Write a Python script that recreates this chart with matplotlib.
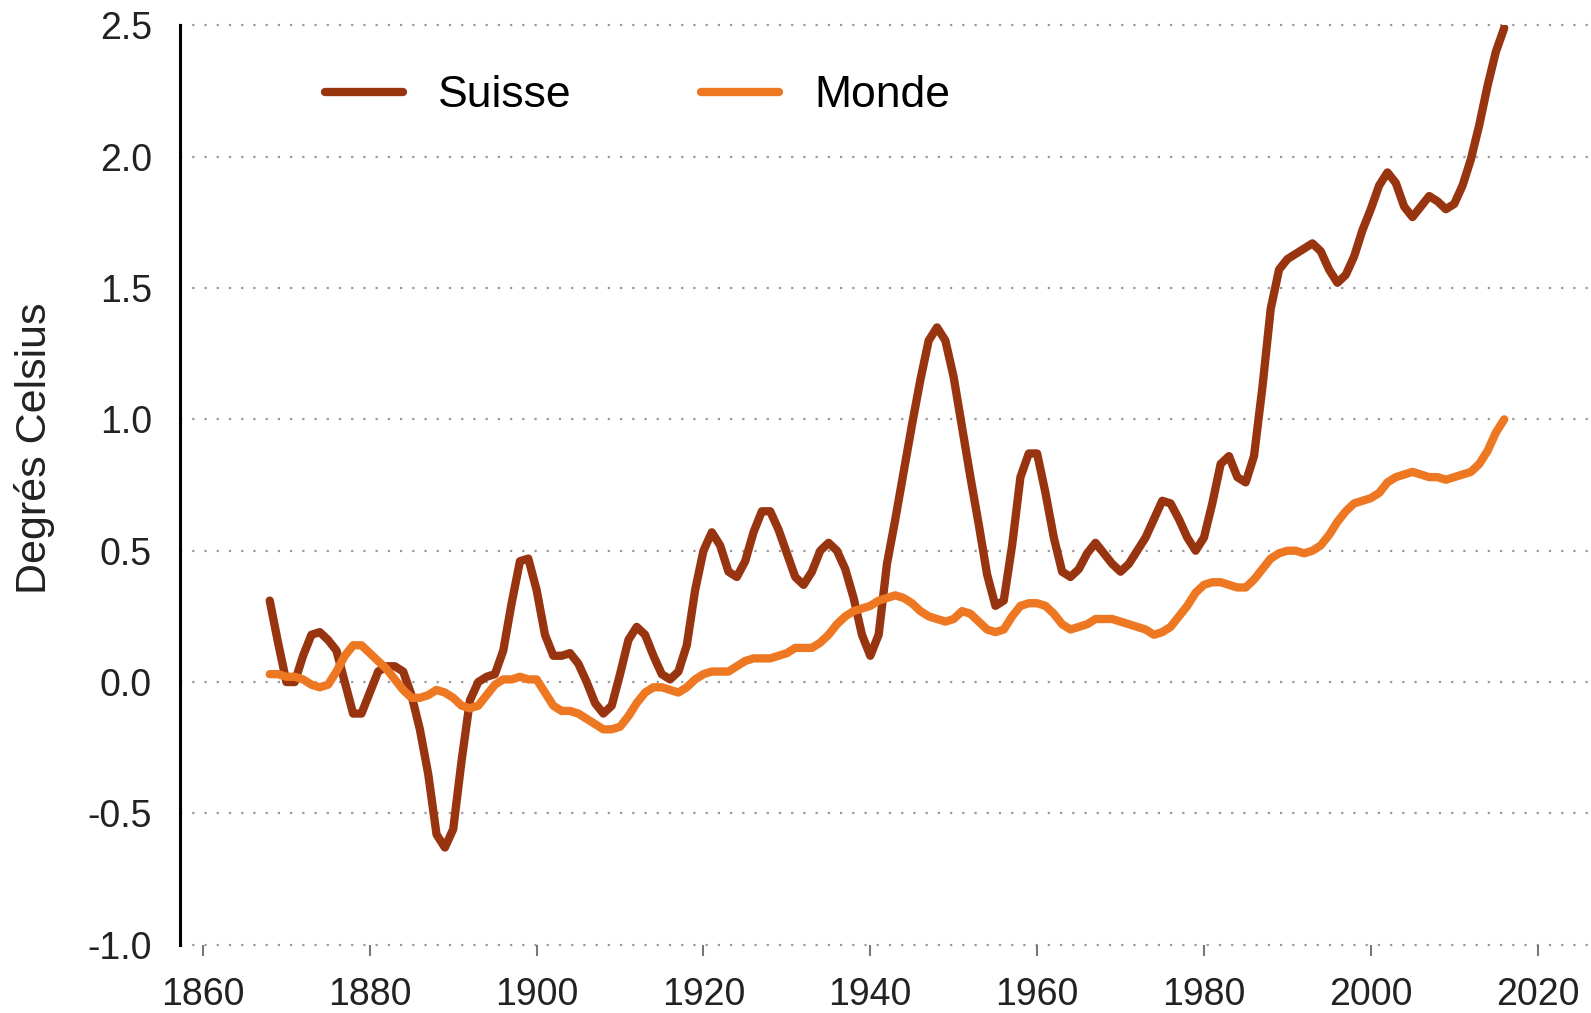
import numpy as np
import matplotlib
matplotlib.use("Agg")
import matplotlib.pyplot as plt

# temperature anomaly (deg C), smoothed series
YEARS = list(range(1868, 2017))

SUISSE = [0.31, 0.15, 0.00, 0.00, 0.10, 0.18, 0.19, 0.16, 0.12, 0.00,
          -0.12, -0.12, -0.04, 0.04, 0.06, 0.06, 0.04, -0.05, -0.18, -0.35,
          -0.58, -0.63, -0.56, -0.30, -0.07, 0.00, 0.02, 0.03, 0.12, 0.30,
          0.46, 0.47, 0.35, 0.18, 0.10, 0.10, 0.11, 0.07, 0.00, -0.08,
          -0.12, -0.09, 0.03, 0.16, 0.21, 0.18, 0.10, 0.03, 0.01, 0.04,
          0.14, 0.35, 0.50, 0.57, 0.52, 0.42, 0.40, 0.46, 0.57, 0.65,
          0.65, 0.58, 0.49, 0.40, 0.37, 0.42, 0.50, 0.53, 0.50, 0.43,
          0.32, 0.18, 0.10, 0.18, 0.45, 0.62, 0.80, 0.98, 1.15, 1.30,
          1.35, 1.30, 1.16, 0.97, 0.78, 0.60, 0.41, 0.29, 0.31, 0.52,
          0.78, 0.87, 0.87, 0.72, 0.55, 0.42, 0.40, 0.43, 0.49, 0.53,
          0.49, 0.45, 0.42, 0.45, 0.50, 0.55, 0.62, 0.69, 0.68, 0.62,
          0.55, 0.50, 0.55, 0.68, 0.83, 0.86, 0.78, 0.76, 0.86, 1.12,
          1.42, 1.57, 1.61, 1.63, 1.65, 1.67, 1.64, 1.57, 1.52, 1.55,
          1.62, 1.72, 1.80, 1.89, 1.94, 1.90, 1.81, 1.77, 1.81, 1.85,
          1.83, 1.80, 1.82, 1.89, 1.99, 2.12, 2.27, 2.40, 2.49]

MONDE = [0.03, 0.03, 0.02, 0.02, 0.01, -0.01, -0.02, -0.01, 0.04, 0.10,
         0.14, 0.14, 0.11, 0.08, 0.05, 0.01, -0.03, -0.06, -0.06, -0.05,
         -0.03, -0.04, -0.06, -0.09, -0.10, -0.09, -0.05, -0.01, 0.01, 0.01,
         0.02, 0.01, 0.01, -0.04, -0.09, -0.11, -0.11, -0.12, -0.14, -0.16,
         -0.18, -0.18, -0.17, -0.13, -0.08, -0.04, -0.02, -0.02, -0.03, -0.04,
         -0.02, 0.01, 0.03, 0.04, 0.04, 0.04, 0.06, 0.08, 0.09, 0.09,
         0.09, 0.10, 0.11, 0.13, 0.13, 0.13, 0.15, 0.18, 0.22, 0.25,
         0.27, 0.28, 0.29, 0.31, 0.32, 0.33, 0.32, 0.30, 0.27, 0.25,
         0.24, 0.23, 0.24, 0.27, 0.26, 0.23, 0.20, 0.19, 0.20, 0.25,
         0.29, 0.30, 0.30, 0.29, 0.26, 0.22, 0.20, 0.21, 0.22, 0.24,
         0.24, 0.24, 0.23, 0.22, 0.21, 0.20, 0.18, 0.19, 0.21, 0.25,
         0.29, 0.34, 0.37, 0.38, 0.38, 0.37, 0.36, 0.36, 0.39, 0.43,
         0.47, 0.49, 0.50, 0.50, 0.49, 0.50, 0.52, 0.56, 0.61, 0.65,
         0.68, 0.69, 0.70, 0.72, 0.76, 0.78, 0.79, 0.80, 0.79, 0.78,
         0.78, 0.77, 0.78, 0.79, 0.80, 0.83, 0.88, 0.95, 1.00]

X_TICKS = [1860, 1880, 1900, 1920, 1940, 1960, 1980, 2000, 2020]
Y_TICKS = [-1.0, -0.5, 0.0, 0.5, 1.0, 1.5, 2.0, 2.5]

COL_SUISSE = "#983510"
COL_MONDE = "#EE7722"

plt.rcParams['font.family'] = ['Liberation Sans', 'DejaVu Sans']


def main():
    fig = plt.figure(figsize=(15.91, 10.13), dpi=100)
    ax = fig.add_axes([0.1129, 0.0674, 0.8871, 0.9076])

    ax.plot(YEARS, SUISSE, color=COL_SUISSE, lw=6, label="Suisse",
            solid_capstyle='round', solid_joinstyle='round')
    ax.plot(YEARS, MONDE, color=COL_MONDE, lw=6, label="Monde",
            solid_capstyle='round', solid_joinstyle='round')

    ax.set_xlim(1857.2, 2026.4)
    ax.set_ylim(-1.0, 2.5)
    ax.set_xticks(X_TICKS)
    ax.set_yticks(Y_TICKS)
    ax.set_yticklabels([f"{v:.1f}" for v in Y_TICKS])

    # dotted horizontal grid, incl. the bottom line
    for v in Y_TICKS:
        ax.axhline(v, color="#999999", lw=1.6, ls=(0, (1, 4.5)), zorder=0,
                   clip_on=False)

    for s in ["top", "right", "bottom"]:
        ax.spines[s].set_visible(False)
    ax.spines["left"].set_linewidth(2.2)
    ax.spines["left"].set_color("black")

    ax.tick_params(axis="y", length=0, pad=20, labelsize=27, labelcolor="#222222")
    ax.tick_params(axis="x", length=8, width=1.5, color="#777777", pad=15,
                   labelsize=27, labelcolor="#222222")

    ax.set_ylabel("Degrés Celsius", fontsize=31, color="#222222")
    ax.yaxis.set_label_coords(-0.088, 0.54)

    ax.legend(loc="upper left", bbox_to_anchor=(0.0872, 0.970), ncol=2,
              frameon=False, fontsize=32, borderpad=0, handlelength=1.75,
              handletextpad=0.8, columnspacing=2.9)

    plt.savefig("out.png", dpi=100)


if __name__ == '__main__':
    main()
